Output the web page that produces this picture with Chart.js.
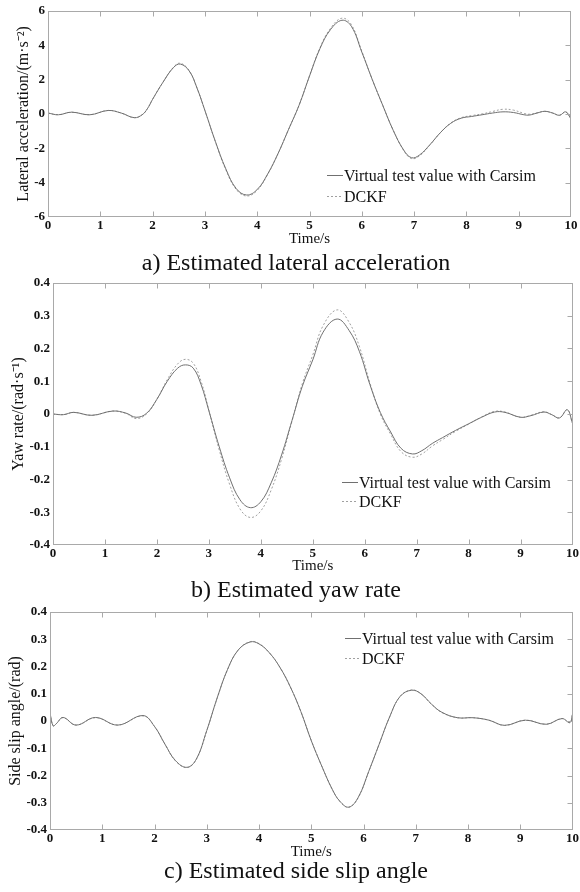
<!DOCTYPE html>
<html>
<head>
<meta charset="utf-8">
<script src="https://cdn.jsdelivr.net/npm/chart.js@4.4.1/dist/chart.umd.min.js"></script>
<style>
html,body{margin:0;padding:0;background:#fff;}
body{width:580px;height:892px;position:relative;overflow:hidden;font-family:'Liberation Serif','Times New Roman',serif;}
canvas{position:absolute;left:0;}
.cap{position:absolute;left:6px;width:580px;text-align:center;font-size:24px;line-height:28px;color:#111;white-space:nowrap;}
</style>
</head>
<body>
<canvas id="ca" width="580" height="250" style="top:0px"></canvas>
<canvas id="cb" width="580" height="310" style="top:270px"></canvas>
<canvas id="cc" width="580" height="265" style="top:600px"></canvas>
<div class="cap" style="top:248px">a) Estimated lateral acceleration</div>
<div class="cap" style="top:575px">b) Estimated yaw rate</div>
<div class="cap" style="top:856px">c) Estimated side slip angle</div>
<script>
// ---------- data ----------
const seriesNames = ['Virtual test value with Carsim', 'DCKF'];
const captions = ['a) Estimated lateral acceleration', 'b) Estimated yaw rate', 'c) Estimated side slip angle'];
const xTitle = 'Time/s';
const yTitles = ['Lateral acceleration/(m·s⁻²)', 'Yaw rate/(rad·s⁻¹)', 'Side slip angle/(rad)'];
const xTickLabels = ['0','1','2','3','4','5','6','7','8','9','10'];
const yTickLabelsA = ['-6','-4','-2','0','2','4','6'];
const yTickLabelsBC = ['-0.4','-0.3','-0.2','-0.1','0','0.1','0.2','0.3','0.4'];

// a) lateral acceleration (m/s^2)
const timeA = [0,0.2,0.45,0.8,1.15,1.4,1.65,1.8,1.9,2.0,2.2,2.4,2.53,2.7,2.85,3.0,3.2,3.4,3.6,3.8,4.0,4.2,4.4,4.6,4.8,5.0,5.2,5.4,5.62,5.8,6.0,6.2,6.4,6.6,6.8,6.95,7.1,7.3,7.5,7.7,7.9,8.1,8.3,8.5,8.7,8.9,9.1,9.2,9.35,9.5,9.65,9.78,9.9,10];
const carsimA = [0.05,-0.05,0.1,-0.05,0.2,0.05,-0.22,-0.05,0.3,0.85,1.85,2.7,2.9,2.5,1.5,0.2,-1.6,-3.2,-4.35,-4.72,-4.4,-3.5,-2.3,-0.9,0.5,2.2,3.8,4.9,5.45,5.1,3.6,2.0,0.5,-0.95,-2.1,-2.55,-2.4,-1.8,-1.1,-0.55,-0.25,-0.15,-0.05,0.05,0.12,0.08,-0.05,-0.07,0.05,0.15,0.05,-0.08,0.12,-0.3];
const dckfA = [0.05,-0.05,0.1,-0.05,0.2,0.05,-0.22,-0.05,0.3,0.85,1.85,2.72,2.95,2.52,1.5,0.2,-1.62,-3.25,-4.4,-4.78,-4.45,-3.52,-2.3,-0.9,0.5,2.22,3.85,4.97,5.57,5.2,3.65,2.0,0.5,-0.95,-2.12,-2.6,-2.45,-1.82,-1.1,-0.53,-0.22,-0.1,0.0,0.14,0.27,0.22,0.03,-0.02,0.06,0.15,0.05,-0.08,0.12,-0.3];

// b) yaw rate (rad/s)
const timeB = [0,0.2,0.4,0.75,1.15,1.4,1.6,1.8,2.0,2.2,2.4,2.55,2.7,2.85,3.0,3.2,3.4,3.6,3.8,4.0,4.2,4.4,4.6,4.8,5.0,5.2,5.47,5.7,5.9,6.1,6.3,6.5,6.7,6.92,7.1,7.3,7.5,7.75,8.0,8.25,8.5,8.7,9.0,9.2,9.45,9.6,9.75,9.9,10];
const carsimB = [0,-0.002,0.005,-0.004,0.009,0.003,-0.01,0.002,0.045,0.1,0.14,0.15,0.14,0.09,0.01,-0.1,-0.195,-0.262,-0.286,-0.268,-0.21,-0.125,-0.02,0.085,0.165,0.25,0.29,0.255,0.19,0.09,0.005,-0.055,-0.105,-0.122,-0.112,-0.09,-0.072,-0.05,-0.03,-0.01,0.006,0.005,-0.01,-0.005,0.006,-0.002,-0.012,0.013,-0.028];
const dckfB = [0,-0.002,0.005,-0.004,0.009,0.002,-0.014,0,0.045,0.105,0.153,0.167,0.155,0.1,0.012,-0.11,-0.215,-0.29,-0.316,-0.296,-0.232,-0.138,-0.022,0.093,0.18,0.27,0.318,0.28,0.205,0.095,0.0,-0.062,-0.115,-0.132,-0.122,-0.098,-0.078,-0.053,-0.031,-0.009,0.008,0.006,-0.01,-0.004,0.007,-0.002,-0.012,0.013,-0.028];

// c) side slip angle (rad)
const timeC = [0,0.06,0.12,0.25,0.5,0.87,1.3,1.78,2.0,2.2,2.4,2.62,2.8,3.0,3.2,3.4,3.6,3.83,4.0,4.2,4.4,4.6,4.8,5.0,5.2,5.4,5.55,5.72,5.9,6.1,6.3,6.5,6.7,6.92,7.1,7.3,7.5,7.8,8.1,8.4,8.7,9.1,9.5,9.8,9.95,10];
const carsimC = [0.03,-0.018,-0.01,0.013,-0.015,0.013,-0.015,0.02,-0.02,-0.085,-0.145,-0.17,-0.14,-0.035,0.085,0.19,0.26,0.29,0.283,0.25,0.197,0.125,0.035,-0.072,-0.165,-0.25,-0.295,-0.316,-0.28,-0.185,-0.085,0.015,0.09,0.113,0.1,0.062,0.032,0.012,0.012,0.003,-0.016,0.003,-0.012,0.009,-0.006,0.025];
const dckfC = [0.028,-0.017,-0.01,0.012,-0.015,0.012,-0.015,0.019,-0.02,-0.085,-0.146,-0.171,-0.141,-0.036,0.084,0.19,0.26,0.291,0.284,0.25,0.197,0.125,0.036,-0.071,-0.165,-0.25,-0.296,-0.317,-0.281,-0.186,-0.085,0.015,0.09,0.114,0.1,0.062,0.031,0.012,0.012,0.003,-0.016,0.003,-0.012,0.009,-0.006,0.024];

// ---------- helpers ----------
const FONT = "'Liberation Serif','Times New Roman',serif";
function pts(t, v) { return t.map((x, i) => ({ x: x, y: v[i] })); }

const framePlugin = {
  id: 'frameTicks',
  afterDatasetsDraw(chart) {
    const { ctx, chartArea, scales } = chart;
    const L = Math.round(chartArea.left) + 0.5, R = Math.round(chartArea.right) - 0.5;
    const T = Math.round(chartArea.top) + 0.5, B = Math.round(chartArea.bottom) - 0.5;
    ctx.save();
    ctx.strokeStyle = '#a9a9a9';
    ctx.lineWidth = 1;
    ctx.strokeRect(L, T, R - L, B - T);
    const len = 5;
    ctx.beginPath();
    scales.x.ticks.forEach(tk => {
      if (tk.value <= scales.x.min || tk.value >= scales.x.max) return;
      const px = Math.round(scales.x.getPixelForValue(tk.value)) + 0.5;
      ctx.moveTo(px, T); ctx.lineTo(px, T + len);
      ctx.moveTo(px, B); ctx.lineTo(px, B - len);
    });
    scales.y.ticks.forEach(tk => {
      if (tk.value <= scales.y.min + 1e-9 || tk.value >= scales.y.max - 1e-9) return;
      const py = Math.round(scales.y.getPixelForValue(tk.value)) + 0.5;
      ctx.moveTo(R, py); ctx.lineTo(R - len, py);
    });
    ctx.stroke();
    ctx.restore();
  }
};

const legendPlugin = {
  id: 'inLegend',
  afterDraw(chart, args, opts) {
    const { ctx } = chart;
    ctx.save();
    ctx.font = '16px ' + FONT;
    ctx.textBaseline = 'middle';
    ctx.textAlign = 'left';
    chart.data.datasets.forEach((ds, i) => {
      const y = Math.round(opts.y + i * opts.gap) + 0.5;
      ctx.strokeStyle = ds.borderColor;
      ctx.lineWidth = 1;
      ctx.setLineDash(ds.borderDash || []);
      ctx.beginPath();
      ctx.moveTo(opts.x, y);
      ctx.lineTo(opts.x + 16, y);
      ctx.stroke();
      ctx.setLineDash([]);
      ctx.fillStyle = '#111';
      ctx.fillText(ds.label, opts.x + 17, y + 1);
    });
    ctx.restore();
  }
};

function makeChart(id, t, s1, s2, yMin, yMax, yStep, yLabels, yTitle, cfg) {
  return new Chart(document.getElementById(id), {
    type: 'line',
    data: {
      datasets: [
        { label: seriesNames[0], data: pts(t, s1), borderColor: '#707070', borderWidth: 1,
          pointRadius: 0, tension: 0.4, fill: false },
        { label: seriesNames[1], data: pts(t, s2), borderColor: '#a0a0a0', borderWidth: 1,
          borderDash: [2, 2], pointRadius: 0, tension: 0.4, fill: false }
      ]
    },
    options: {
      responsive: false,
      animation: false,
      events: [],
      layout: { padding: { top: cfg.padTop, right: cfg.padRight, left: 0, bottom: 0 } },
      plugins: {
        legend: { display: false },
        tooltip: { enabled: false },
        inLegend: cfg.legend
      },
      scales: {
        x: {
          type: 'linear', min: 0, max: 10,
          afterFit: s => { s.height = cfg.xh; },
          grid: { display: false, drawTicks: false },
          border: { display: false },
          ticks: {
            stepSize: 1, padding: 1, maxRotation: 0, autoSkip: false, color: '#111',
            font: { family: FONT, size: 13, weight: 'bold' },
            callback: v => xTickLabels[Math.round(v)]
          },
          title: {
            display: true, text: xTitle, color: '#111',
            font: { family: FONT, size: 15 },
            padding: { top: 0, bottom: cfg.xtPad }
          }
        },
        y: {
          type: 'linear', min: yMin, max: yMax,
          afterFit: s => { s.width = cfg.yw; },
          grid: { display: false, drawTicks: false },
          border: { display: false },
          ticks: {
            stepSize: yStep, padding: 3, autoSkip: false, color: '#111',
            font: { family: FONT, size: 13, weight: 'bold' },
            callback: v => yLabels[Math.round((v - yMin) / yStep)]
          },
          title: {
            display: true, text: yTitle, color: '#111',
            font: { family: FONT, size: 16 },
            padding: { top: cfg.ytPad, bottom: 0 }
          }
        }
      }
    },
    plugins: [framePlugin, legendPlugin]
  });
}

makeChart('ca', timeA, carsimA, dckfA, -6, 6, 2, yTickLabelsA, yTitles[0],
  { padTop: 8, padRight: 9, yw: 48, xh: 33, xtPad: 2, ytPad: 14, legend: { x: 327, y: 175, gap: 21 } });
makeChart('cb', timeB, carsimB, dckfB, -0.4, 0.4, 0.1, yTickLabelsBC, yTitles[1],
  { padTop: 13, padRight: 7, yw: 53, xh: 35, xtPad: 5, ytPad: 9, legend: { x: 342, y: 212, gap: 19 } });
makeChart('cc', timeC, carsimC, dckfC, -0.4, 0.4, 0.1, yTickLabelsBC, yTitles[2],
  { padTop: 12, padRight: 7, yw: 50, xh: 35, xtPad: 4, ytPad: 6, legend: { x: 345, y: 38, gap: 20 } });
</script>
</body>
</html>
